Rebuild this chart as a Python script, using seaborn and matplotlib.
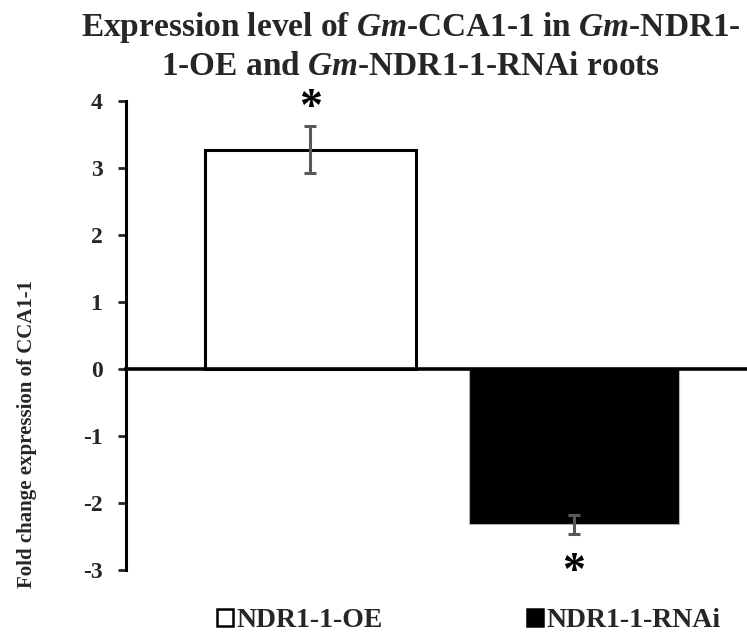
import matplotlib
matplotlib.use("Agg")
import matplotlib.pyplot as plt
from matplotlib.patches import Patch
import seaborn as sns
import pandas as pd

# Fold-change of CCA1-1 expression in transgenic roots
categories = ["NDR1-1-OE", "NDR1-1-RNAi"]
fold_change = [3.27, -2.32]
std_err = [0.35, 0.14]
bar_colors = ["white", "black"]
y_ticks = [-3, -2, -1, 0, 1, 2, 3, 4]

sns.set_theme(style="white")
plt.rcParams["font.family"] = ["Liberation Serif", "DejaVu Serif"]
plt.rcParams["font.weight"] = "bold"
plt.rcParams["mathtext.fontset"] = "custom"
plt.rcParams["mathtext.rm"] = "Liberation Serif:bold"
plt.rcParams["mathtext.bf"] = "Liberation Serif:bold"
plt.rcParams["mathtext.it"] = "Liberation Serif:italic:bold"

df = pd.DataFrame({"line": categories, "fc": fold_change})

fig = plt.figure(figsize=(7.47, 6.4), dpi=100)
ax = fig.add_axes([0.1687, 0.1094, 0.8313, 0.7328])

sns.barplot(data=df, x="line", y="fc", hue="line", palette=bar_colors,
            order=categories, hue_order=categories, errorbar=None,
            width=0.8, linewidth=2.2, edgecolor="black", legend=False, ax=ax)
# RNAi bar gets a faint grey outline
ax.patches[1].set_edgecolor("#b0b0b0")
ax.patches[1].set_linewidth(0.8)

ax.errorbar(range(len(categories)), fold_change, yerr=std_err, fmt="none",
            ecolor="#595959", elinewidth=2.2, capsize=4.5, capthick=2.2, zorder=5)

# significance marks
for i, (v, e) in enumerate(zip(fold_change, std_err)):
    if v >= 0:
        ax.text(i, v + e - 0.06, "*", ha="center", va="bottom",
                fontsize=33, fontweight="bold", color="black")
    else:
        ax.text(i, v - e - 0.27, "*", ha="center", va="top",
                fontsize=33, fontweight="bold", color="black")

ax.set_xlim(-0.70, 1.657)
ax.set_ylim(-3, 4)
ax.set_yticks(y_ticks)
ax.set_yticklabels([str(t) for t in y_ticks], fontsize=17, fontweight="bold")
ax.tick_params(axis="y", direction="out", length=6, width=2, left=True, pad=11)
ax.set_xticks([])
ax.set_xlabel("")
ax.set_ylabel("Fold change expression of CCA1-1", fontsize=15, fontweight="bold")
ax.yaxis.set_label_coords(-0.143, 0.29)

for s in ["top", "right"]:
    ax.spines[s].set_visible(False)
ax.spines["left"].set_linewidth(2.2)
ax.spines["left"].set_color("black")
ax.spines["bottom"].set_position(("data", 0))
ax.spines["bottom"].set_linewidth(2.6)
ax.spines["bottom"].set_color("black")

fig.text(0.550, 0.9438, r"Expression level of $\mathit{Gm}$-CCA1-1 in $\mathit{Gm}$-NDR1-",
         ha="center", va="baseline", fontsize=24, fontweight="bold")
fig.text(0.550, 0.8828, r"1-OE and $\mathit{Gm}$-NDR1-1-RNAi roots",
         ha="center", va="baseline", fontsize=24, fontweight="bold")

handles = [Patch(facecolor=c, edgecolor="black", linewidth=1.8) for c in bar_colors]
fig.legend(handles, categories, loc="center", bbox_to_anchor=(0.628, 0.03),
           ncol=2, frameon=False, handlelength=0.55, handleheight=0.55,
           handletextpad=0.15, columnspacing=5.2, borderaxespad=0, borderpad=0,
           prop={"family": "Liberation Serif", "weight": "bold", "size": 20})

fig.savefig("out.png", dpi=100)
